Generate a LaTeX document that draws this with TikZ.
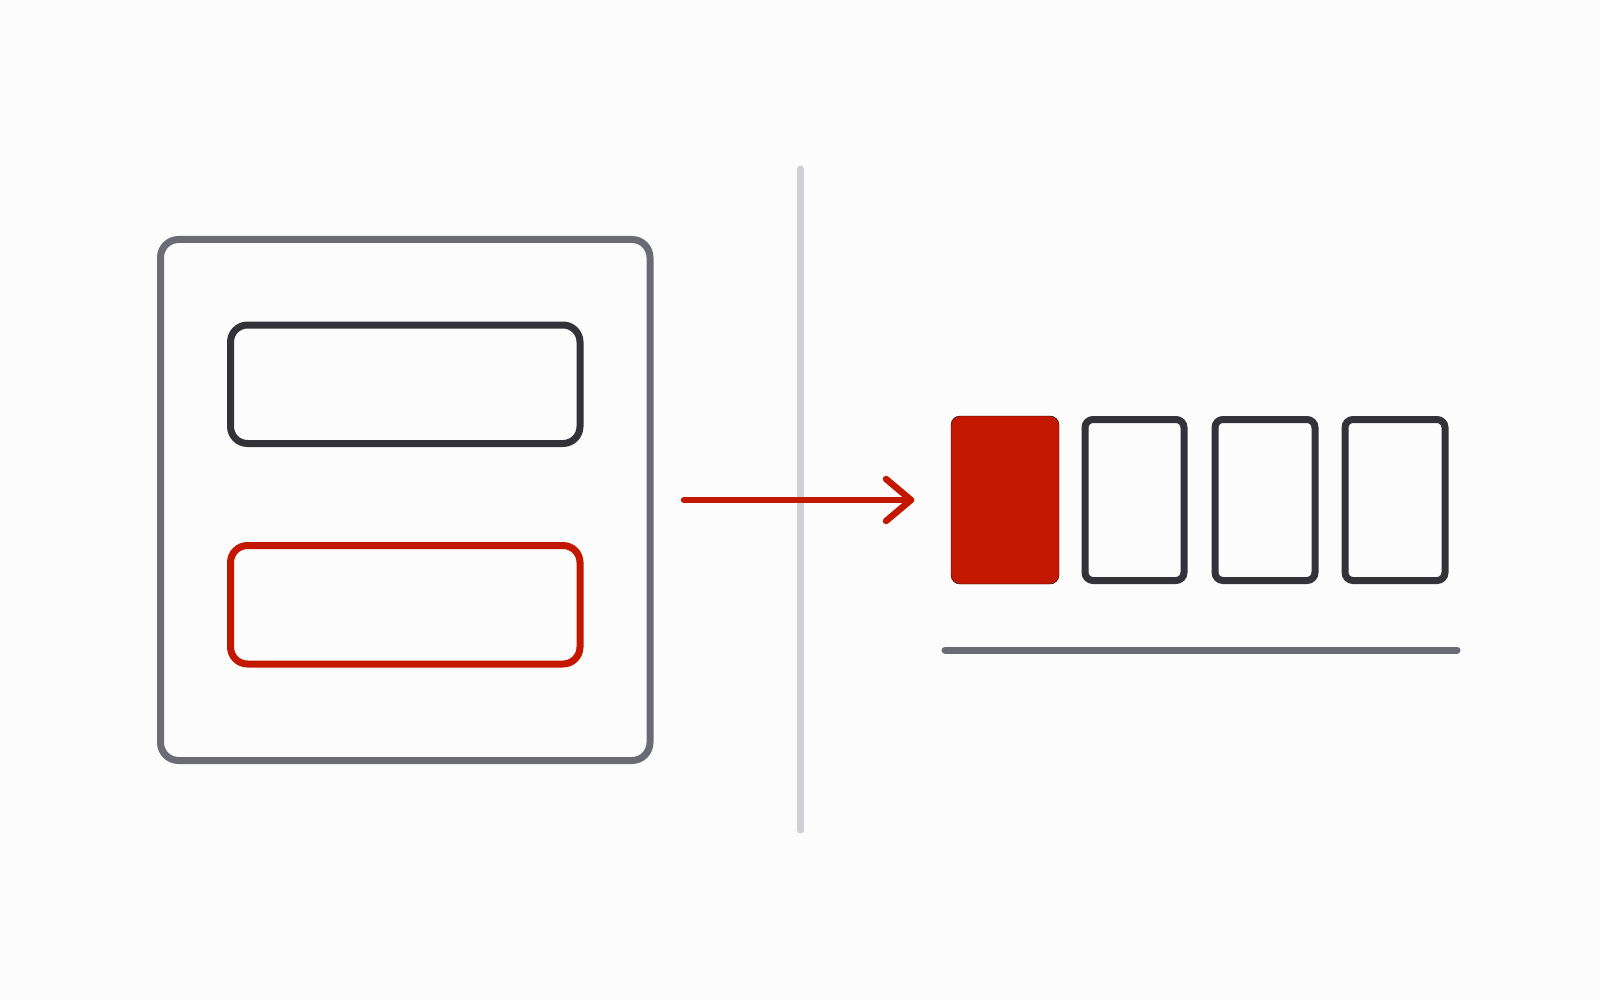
\documentclass[tikz,border=0pt]{standalone}
\usetikzlibrary{arrows.meta}
\definecolor{bg}{HTML}{FDFCFD}
\definecolor{frame}{HTML}{6A6B74}
\definecolor{dark}{HTML}{333238}
\definecolor{accent}{HTML}{C41700}
\definecolor{divider}{HTML}{D0CFD3}
\tikzset{
  outerbox/.style={draw=frame, line width=7pt, rounded corners=18pt},
  innerbox/.style={draw=dark, line width=7pt, rounded corners=17pt},
  redbox/.style={draw=accent, line width=7pt, rounded corners=17pt},
  slotbox/.style={draw=dark, line width=7pt, rounded corners=8pt},
  slotfill/.style={fill=accent, rounded corners=9pt},
  divline/.style={draw=divider, line width=7pt, line cap=round},
  baseline/.style={draw=frame, line width=7pt, line cap=round},
  arrowline/.style={draw=accent, line width=6.5pt, line cap=round, line join=round}
}
\begin{document}
\begin{tikzpicture}[x=1pt,y=-1pt]
\path[fill=bg] (0,0) rectangle (1600,1000);
\useasboundingbox (0,0) rectangle (1600,1000);
% left panel
\draw[outerbox] (160.5,239.5) rectangle (650,760.5);
\draw[innerbox] (230.5,325) rectangle (580,443.5);
\draw[redbox] (230.5,545.5) rectangle (580,664);
% divider
\coordinate (dtop) at (800,169);
\coordinate (dbot) at (800,830);
\draw[divline] (dtop) -- (dbot);
% arrow
\coordinate (astart) at (684,500);
\coordinate (atip) at (911,500);
\draw[arrowline] (astart) -- (atip);
\draw[arrowline] (886,479) -- (atip) -- (886,521);
% slots
\draw[slotfill] (951,416) rectangle (1059,584);
\draw[slotbox] (1085,419.5) rectangle (1184,580.5);
\draw[slotbox] (1215,419.5) rectangle (1315,580.5);
\draw[slotbox] (1345,419.5) rectangle (1445,580.5);
% base line
\coordinate (bl) at (945,650);
\coordinate (br) at (1457,650);
\draw[baseline] (bl) -- (br);
\end{tikzpicture}
\end{document}
